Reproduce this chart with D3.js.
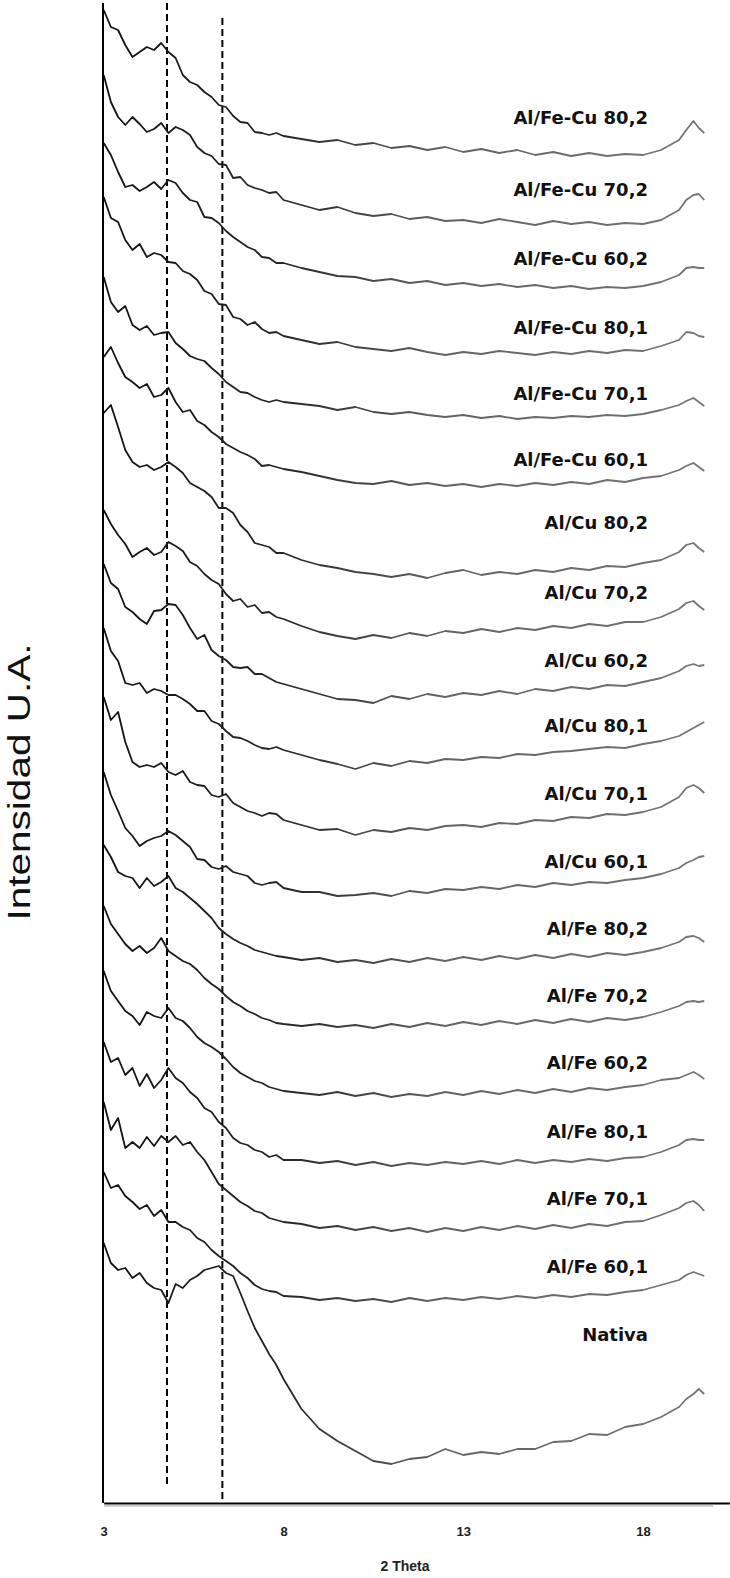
<!DOCTYPE html>
<html><head><meta charset="utf-8">
<script src="https://cdn.jsdelivr.net/npm/d3@7"></script>
<style>body{margin:0;background:#fff}</style>
</head><body>
<svg id="chart" width="730" height="1578"></svg>
<script>
// 2θ grid (degrees)
const twoTheta = [3.0,3.2,3.4,3.6,3.8,4.0,4.2,4.4,4.6,4.8,5.0,5.2,5.4,5.6,5.8,6.0,6.2,6.4,6.6,6.8,7.0,7.2,7.4,7.6,7.8,8.0,
  8.5,9,9.5,10,10.5,11,11.5,12,12.5,13,13.5,14,14.5,15,15.5,16,16.5,17,17.5,18,18.5,19,19.2,19.4,19.55,19.7];

const categories = ["Al/Fe-Cu 80,2","Al/Fe-Cu 70,2","Al/Fe-Cu 60,2","Al/Fe-Cu 80,1","Al/Fe-Cu 70,1","Al/Fe-Cu 60,1",
  "Al/Cu 80,2","Al/Cu 70,2","Al/Cu 60,2","Al/Cu 80,1","Al/Cu 70,1","Al/Cu 60,1",
  "Al/Fe 80,2","Al/Fe 70,2","Al/Fe 60,2","Al/Fe 80,1","Al/Fe 70,1","Al/Fe 60,1","Nativa"];

// stacked intensities (a.u., stacking offset included)
const i_AlFeCu_80_2 = [1493,1476,1473,1458,1446,1451,1456,1453,1460,1451,1445,1428,1421,1418,1411,1406,1398,1396,1387,1381,1380,1371,1370,1368,1370,1367,1364,1361,1363,1358,1360,1355,1357,1353,1356,1351,1354,1350,1353,1348,1351,1347,1350,1347,1349,1348,1353,1363,1373,1382,1375,1370];
const i_AlFeCu_70_2 = [1428,1401,1386,1378,1386,1379,1371,1374,1380,1370,1376,1373,1368,1356,1350,1347,1339,1338,1325,1326,1318,1315,1313,1310,1311,1303,1298,1293,1296,1290,1287,1289,1284,1286,1282,1283,1280,1284,1281,1278,1282,1279,1281,1278,1280,1279,1283,1293,1303,1308,1309,1303];
const i_AlFeCu_60_2 = [1360,1348,1331,1316,1318,1312,1316,1321,1314,1323,1320,1310,1303,1301,1286,1285,1280,1272,1266,1261,1256,1253,1246,1245,1240,1240,1235,1231,1227,1226,1222,1224,1220,1222,1218,1220,1217,1219,1216,1218,1215,1217,1214,1216,1215,1217,1221,1228,1235,1236,1235,1235];
const i_AlFeCu_80_1 = [1306,1285,1281,1263,1253,1259,1246,1250,1248,1241,1240,1232,1229,1223,1212,1209,1199,1198,1186,1184,1178,1181,1174,1170,1171,1167,1163,1159,1161,1156,1154,1152,1155,1151,1148,1151,1149,1152,1150,1148,1151,1149,1152,1150,1153,1152,1157,1163,1171,1170,1167,1166];
const i_AlFeCu_70_1 = [1226,1201,1191,1197,1178,1173,1177,1168,1170,1171,1160,1154,1147,1144,1142,1135,1129,1121,1116,1111,1110,1106,1103,1101,1103,1101,1099,1097,1093,1096,1091,1089,1091,1088,1086,1088,1085,1087,1084,1086,1085,1087,1086,1088,1087,1089,1093,1098,1102,1105,1101,1097];
const i_AlFeCu_60_1 = [1146,1156,1140,1126,1121,1115,1119,1106,1108,1115,1101,1091,1093,1082,1078,1071,1066,1059,1055,1051,1048,1044,1037,1038,1036,1034,1031,1027,1023,1020,1019,1022,1018,1020,1017,1019,1016,1019,1017,1020,1018,1021,1019,1023,1021,1025,1027,1033,1037,1040,1036,1032];
const i_AlCu_80_2 = [1090,1098,1076,1053,1041,1036,1038,1033,1036,1041,1036,1030,1020,1016,1012,1006,995,995,990,978,971,960,958,956,950,950,943,938,935,931,929,926,929,925,930,933,928,931,929,933,931,935,933,937,936,940,943,951,958,960,955,951];
const i_AlCu_70_2 = [993,979,968,959,946,951,955,948,951,961,957,952,941,937,929,923,919,909,902,904,896,898,890,891,886,884,877,871,867,864,868,865,870,867,872,870,874,871,875,873,877,875,879,877,881,881,886,894,900,902,897,893];
const i_AlCu_60_2 = [939,920,914,896,891,884,879,892,893,899,898,888,875,864,868,853,847,843,836,835,836,829,829,825,821,819,814,809,804,803,800,807,804,809,806,810,808,812,809,814,812,816,814,818,817,821,825,832,837,839,837,838];
const i_AlCu_80_1 = [875,852,842,820,818,820,810,814,812,808,808,804,799,792,792,782,779,772,766,765,762,758,755,754,756,753,748,743,739,734,740,737,742,740,744,743,746,745,749,748,751,752,754,756,755,759,762,767,771,775,778,781];
const i_AlCu_70_1 = [806,783,791,761,741,736,738,736,740,731,728,732,721,718,717,708,706,709,700,696,692,690,687,690,689,683,678,673,674,668,673,671,675,673,677,678,676,680,679,683,682,686,685,689,688,691,696,706,715,718,715,710];
const i_AlCu_60_1 = [731,708,692,675,667,657,662,665,667,672,668,662,656,644,643,636,634,637,631,629,627,620,618,620,621,615,611,611,607,608,610,607,612,610,614,613,616,614,618,616,620,618,621,620,623,625,629,635,640,643,646,647];
const i_AlFe_80_2 = [658,646,631,627,625,615,625,617,621,627,615,611,605,599,592,585,575,569,564,560,557,553,551,549,547,546,543,545,541,543,540,544,541,545,542,546,543,547,544,548,545,549,546,550,548,551,555,561,566,567,565,561];
const i_AlFe_70_2 = [597,579,569,559,552,557,550,555,565,552,547,542,539,533,525,519,514,507,501,497,492,489,485,483,480,479,477,479,476,478,475,479,476,480,477,481,478,482,479,483,480,484,481,485,483,486,491,497,501,502,501,502];
const i_AlFe_60_2 = [532,512,502,492,487,478,491,487,485,495,485,482,475,466,460,456,451,444,436,430,426,422,420,416,414,412,410,408,411,407,410,406,409,407,411,408,412,409,413,410,414,411,415,413,416,418,423,425,428,431,428,424];
const i_AlFe_80_1 = [461,441,445,428,435,417,429,415,423,435,425,420,411,405,395,391,381,375,365,360,358,353,351,346,348,343,343,340,342,338,341,337,340,338,341,339,342,339,343,340,343,341,344,342,345,346,351,358,363,364,363,363];
const i_AlFe_70_1 = [401,373,385,355,361,355,366,357,367,361,367,358,361,351,343,331,319,313,307,301,297,292,290,285,283,281,279,275,277,273,276,272,275,271,275,272,276,273,277,274,278,275,279,277,281,282,288,295,300,302,298,292];
const i_AlFe_60_1 = [331,315,318,307,301,294,298,287,293,281,281,276,273,265,261,253,247,242,237,230,225,218,214,212,211,207,206,203,205,202,204,201,205,202,205,203,206,204,207,205,208,206,209,208,211,213,218,223,228,231,229,227];
const i_Nativa = [260,240,233,235,225,230,220,215,213,200,219,215,223,227,233,235,237,230,227,210,192,175,162,149,138,124,94,74,62,52,42,39,44,46,54,48,51,49,54,54,61,62,69,68,76,79,86,96,104,109,114,109];

const guideTheta = [4.76, 6.30];
const xTickValues = [3, 8, 13, 18];
const xTitle = "2 Theta";
const yTitle = "Intensidad U.A.";

const seriesValues = [i_AlFeCu_80_2,i_AlFeCu_70_2,i_AlFeCu_60_2,i_AlFeCu_80_1,i_AlFeCu_70_1,i_AlFeCu_60_1,
  i_AlCu_80_2,i_AlCu_70_2,i_AlCu_60_2,i_AlCu_80_1,i_AlCu_70_1,i_AlCu_60_1,
  i_AlFe_80_2,i_AlFe_70_2,i_AlFe_60_2,i_AlFe_80_1,i_AlFe_70_1,i_AlFe_60_1,i_Nativa];

// layout: label baselines (px)
const labelBaseline = [124,196,265,334,400,466,529,599,667,732,800,868,935,1002,1069,1138,1205,1273,1341];

const table = categories.map((name, k) => ({
  name, k, points: twoTheta.map((t, j) => ({t, v: seriesValues[k][j]}))
}));

const svg = d3.select("#chart");
const x = d3.scaleLinear().domain([3, 20.4]).range([103.7, 729.4]);
const y = d3.scaleLinear().domain([0, 1500]).range([1503, 3]);

const defs = svg.append("defs");
const grad = defs.append("linearGradient").attr("id","ink")
  .attr("gradientUnits","userSpaceOnUse").attr("x1",103).attr("x2",710).attr("y1",0).attr("y2",0);
[[0,"#111"],[0.3,"#262626"],[0.55,"#626262"],[1,"#767676"]].forEach(([o,c]) =>
  grad.append("stop").attr("offset",o).attr("stop-color",c));

// guide dashed lines
const guideTop = [1500, 1485];
const guideBottom = [15, 0];
svg.append("g").selectAll("line").data(guideTheta).join("line")
  .attr("x1", d => x(d)).attr("x2", d => x(d))
  .attr("y1", (d,i) => y(guideTop[i])).attr("y2", (d,i) => y(guideBottom[i]))
  .attr("stroke","#000").attr("stroke-width",2).attr("stroke-dasharray","7,4");

// series
const line = d3.line().x(d => x(d.t)).y(d => y(d.v)).curve(d3.curveLinear);
svg.append("g").selectAll("path").data(table).join("path")
  .attr("d", d => line(d.points))
  .attr("fill","none").attr("stroke","url(#ink)").attr("stroke-width",1.8)
  .attr("stroke-linejoin","round");

// labels
svg.append("g").selectAll("text").data(table).join("text")
  .attr("x", 648)
  .attr("y", d => labelBaseline[d.k])
  .attr("text-anchor","end")
  .attr("font-family","DejaVu Sans, sans-serif").attr("font-weight","bold").attr("font-size",18)
  .attr("fill","#111")
  .text(d => d.name);

// axes
svg.append("line").attr("x1",103).attr("x2",103).attr("y1",y(1500)).attr("y2",y(0))
  .attr("stroke","#000").attr("stroke-width",2);
svg.append("line").attr("x1",104).attr("x2",x(19.95)).attr("y1",y(0)+3).attr("y2",y(0)+3)
  .attr("stroke","#cfcfcf").attr("stroke-width",2);
const xAxis = svg.append("g").attr("transform",`translate(0,${y(0)})`)
  .call(d3.axisBottom(x).tickValues(xTickValues).tickSize(0).tickPadding(24).tickFormat(d3.format("d")));
xAxis.select(".domain").attr("stroke","#000").attr("stroke-width",2.2);
xAxis.selectAll("text").attr("font-family","Liberation Sans, Arial, sans-serif")
  .attr("font-weight","bold").attr("font-size",13).attr("fill","#222");

svg.append("text").attr("x",405).attr("y",1571).attr("text-anchor","middle")
  .attr("font-family","Liberation Sans, Arial, sans-serif").attr("font-weight","bold").attr("font-size",14)
  .attr("fill","#222").text(xTitle);

svg.append("text").attr("transform","translate(30,782) rotate(-90)").attr("text-anchor","middle")
  .attr("font-family","Liberation Sans, Arial, sans-serif").attr("font-size",32)
  .attr("textLength",277).attr("lengthAdjust","spacingAndGlyphs")
  .attr("fill","#111").text(yTitle);
</script>
</body></html>
